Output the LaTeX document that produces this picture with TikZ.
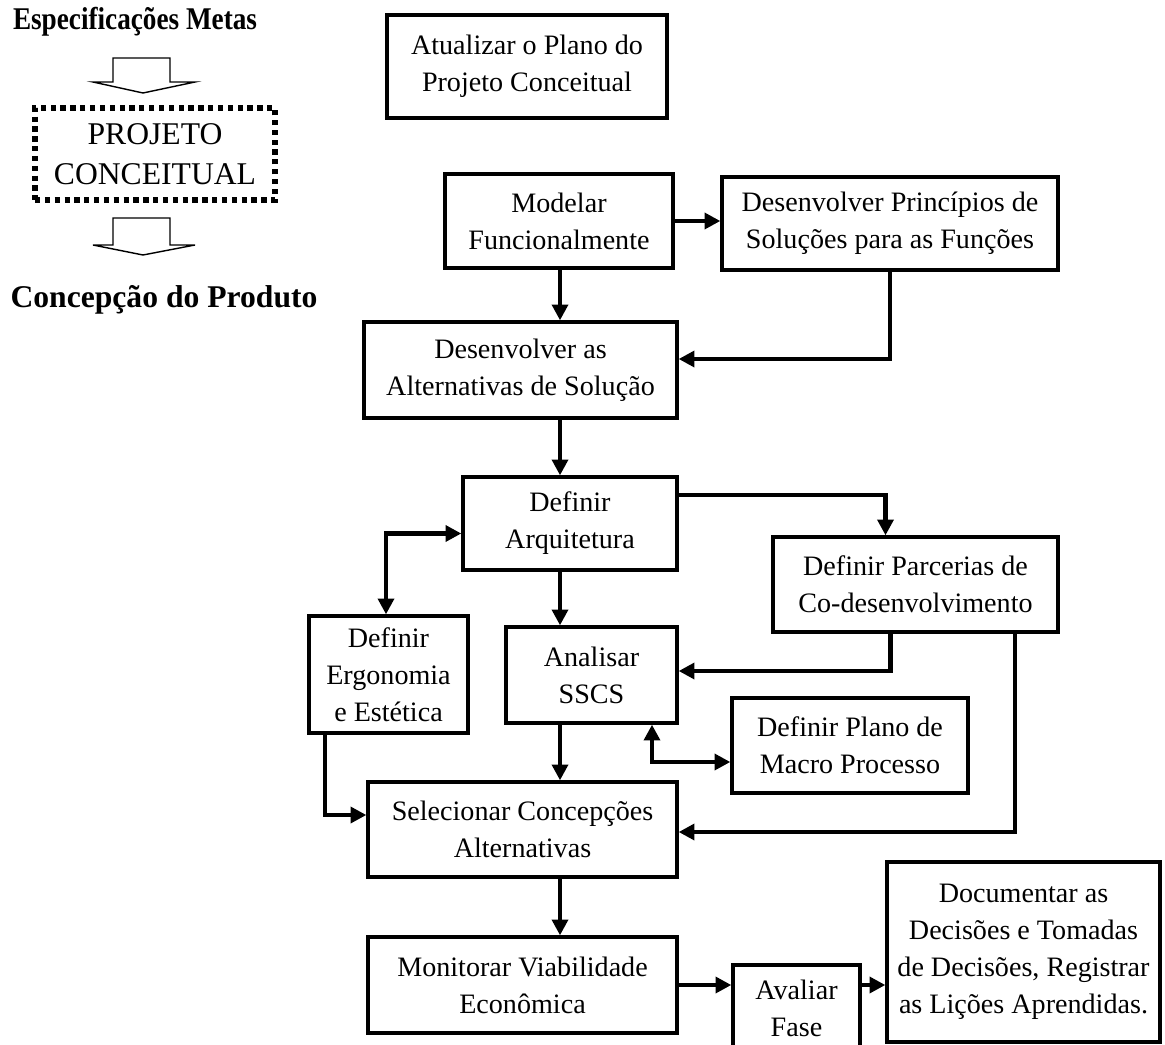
\documentclass[tikz,border=0pt]{standalone}
\usepackage{fontspec}
\setmainfont{Liberation Serif}
\usetikzlibrary{arrows.meta, positioning, calc}

\begin{document}
\begin{tikzpicture}[x=0.02cm, y=-0.02cm,
    etapa/.style 2 args={rectangle, draw=black, line width=1.9pt, align=center, minimum width=#1*0.2mm, minimum height=#2*0.2mm, inner sep=0pt, font=\fontsize{16}{21}\selectfont},
    arrow/.style={-{Triangle[length=9pt, width=9pt]}, line width=2.6pt},
    twoway/.style={{Triangle[length=9pt, width=9pt]}-{Triangle[length=9pt, width=9pt]}, line width=2.6pt},
    rotulo/.style={font=\fontsize{18}{20}\selectfont\bfseries},
    oco/.style={line width=0.8pt, line join=miter}
]
\useasboundingbox (0,0) rectangle (1165,1044);

% Left side
\node[rotulo] (spec) at (135,22) {\scalebox{0.86}[1]{Especificações Metas}};
\node[rectangle, draw=black, line width=3.2pt, dash pattern=on 3pt off 2.6pt, minimum width=48mm, minimum height=18.4mm, align=center, inner sep=0pt, font=\fontsize{18}{22.5}\selectfont] (proj) at (155,154) {PROJETO\\CONCEITUAL};
\node[rotulo] (concep) at (164,300) {Concepção do Produto};

% Hollow arrows
\draw[oco] (113,58) -- (170,58) -- (170,82) -- (195,82) -- (143,93) -- (93,82) -- (113,82) -- cycle;
\draw[oco] (113,218) -- (170,218) -- (170,245) -- (195,245) -- (143,255) -- (93,245) -- (113,245) -- cycle;

% Steps
\node[etapa={280}{103}] (plano) at (527,66.5) {Atualizar o Plano do\\Projeto Conceitual};
\node[etapa={228}{94}] (modelar) at (559,221) {Modelar\\Funcionalmente};
\node[etapa={336}{93}] (princ) at (890,223.5) {Desenvolver Princípios de\\Soluções para as Funções};
\node[etapa={313}{96}] (desalt) at (520.5,370) {Desenvolver as\\Alternativas de Solução};
\node[etapa={214}{93}] (arq) at (570,523.5) {Definir\\Arquitetura};
\node[etapa={285}{95}] (parc) at (915.5,584.5) {Definir Parcerias de\\Co-desenvolvimento};
\node[etapa={159}{117}] (ergo) at (388.5,674.5) {Definir\\Ergonomia\\e Estética};
\node[etapa={171}{96}] (sscs) at (591.5,675) {Analisar\\SSCS};
\node[etapa={236}{95}] (macro) at (850,745.5) {Definir Plano de\\Macro Processo};
\node[etapa={309}{95}] (selec) at (522.5,829.5) {Selecionar Concepções\\Alternativas};
\node[etapa={309}{96}] (monit) at (522.5,985) {Monitorar Viabilidade\\Econômica};
\node[etapa={127}{86}] (aval) at (796.5,1008) {Avaliar\\Fase};
\node[etapa={273}{180}] (doc) at (1023.5,952) {Documentar as\\Decisões e Tomadas\\de Decisões, Registrar\\as Lições Aprendidas.};

% Main spine
\coordinate (spine) at (560,0);

% Arrows
\draw[arrow] (modelar.east) -- (modelar.east -| princ.west);
\draw[arrow] (modelar.south -| spine) -- (desalt.north -| spine);
\draw[arrow] (princ.south) |- ([yshift=2.2mm]desalt.east);
\draw[arrow] (desalt.south -| spine) -- (arq.north -| spine);
\draw[twoway] ([xshift=-0.5mm]ergo.north) |- ([yshift=-2mm]arq.west);
\draw[arrow] ([yshift=5.7mm]arq.east) -| ([xshift=-6mm]parc.north);
\draw[arrow] (arq.south -| spine) -- (sscs.north -| spine);
\draw[arrow] ([xshift=-5mm]parc.south) |- ([yshift=0.8mm]sscs.east);
\draw[twoway] ([xshift=12.1mm]sscs.south) |- ([yshift=-3.3mm]macro.west);
\draw[arrow] (sscs.south -| spine) -- (selec.north -| spine);
\draw[arrow] ([xshift=-12.7mm]ergo.south) |- ([yshift=2.9mm]selec.west);
\draw[arrow] ([xshift=19.9mm]parc.south) |- ([yshift=-0.5mm]selec.east);
\draw[arrow] (selec.south -| spine) -- (monit.north -| spine);
\draw[arrow] (monit.east) -- (monit.east -| aval.west);
\draw[arrow] (aval.east |- monit.east) -- (monit.east -| doc.west);

\end{tikzpicture}
\end{document}
